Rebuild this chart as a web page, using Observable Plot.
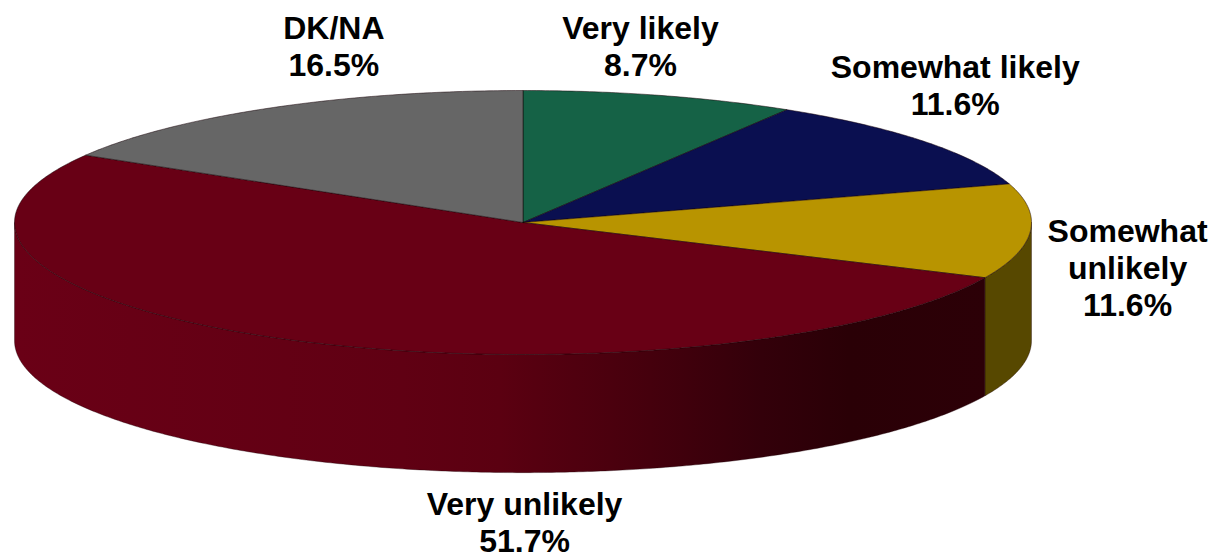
<!DOCTYPE html>
<html>
<head>
<meta charset="utf-8">
<style>html,body{margin:0;padding:0;background:#fff}svg{display:block}</style>
<script src="https://cdn.jsdelivr.net/npm/d3@7"></script>
<script src="https://cdn.jsdelivr.net/npm/@observablehq/plot@0.6"></script>
</head>
<body>
<script>
// Survey responses, clockwise from twelve o'clock
const categories = ["Very likely", "Somewhat likely", "Somewhat unlikely", "Very unlikely", "DK/NA"];
const shares = [8.7, 11.6, 11.6, 51.7, 16.5];
const displayNames = ["Very likely", "Somewhat likely", "Somewhat\nunlikely", "Very unlikely", "DK/NA"];
const topColors = ["#156246", "#0a0f50", "#b89400", "#680015", "#666666"];
const wallColors = ["#0c3a2a", "#060830", "#574800", "url(#wallShade)", "#3d3d3d"];

// Label centres, in pie units (the ellipse spans -1..1 on each axis)
const labelX = [0.231, 0.85, 1.189, 0.003, -0.372];
const labelY = [1.34, 1.047, -0.34, -2.265, 1.34];

// Shading of the long front wall, left to right
const wallStops = [[0, "#6a0016"], [0.4, "#600013"], [0.5, "#5b0011"], [0.655, "#45000d"], [0.77, "#33000a"], [0.86, "#2a0006"], [1, "#2c0007"]];

const depth = 0.895;           // wall height in pie units
const total = d3.sum(shares);
const step = Math.PI / 360;

// Slice boundaries as clockwise angles from the top of the ellipse
let running = 0;
const slices = categories.map((name, i) => {
  const a0 = running / total * 2 * Math.PI;
  running += shares[i];
  return {name, a0, a1: running / total * 2 * Math.PI, i};
});

const arc = (a0, a1) => {
  const angles = d3.range(a0, a1, step).concat(a1);
  return angles.map(a => [Math.sin(a), Math.cos(a)]);
};

const topPoints = slices.flatMap(s => {
  const ring = [[0, 0], ...arc(s.a0, s.a1), [0, 0]];
  return ring.map(([x, y]) => ({x, y, name: s.name, fill: topColors[s.i]}));
});

// Only the arc between the right and left extremes of the ellipse shows a wall
const wallPoints = slices.flatMap(s => {
  const a0 = Math.max(s.a0, Math.PI / 2), a1 = Math.min(s.a1, 1.5 * Math.PI);
  if (a1 <= a0) return [];
  const edge = arc(a0, a1);
  const ring = [...edge, ...edge.slice().reverse().map(([x, y]) => [x, y - depth]), edge[0]];
  return ring.map(([x, y]) => ({x, y, name: s.name, fill: wallColors[s.i]}));
});

const labels = slices.map(s => ({
  x: labelX[s.i],
  y: labelY[s.i],
  text: `${displayNames[s.i]}\n${shares[s.i].toFixed(1)}%`
}));

const chart = Plot.plot({
  width: 1214,
  height: 557,
  margin: 0,
  x: {domain: [-1, 1], range: [14, 1031], axis: null},
  y: {domain: [-1, 1], range: [354, 90], axis: null},
  color: {type: "identity"},
  marks: [
    Plot.line(wallPoints, {x: "x", y: "y", z: "name", fill: "fill", stroke: "#1c0005", strokeWidth: 0.6, strokeOpacity: 0.6, clip: false}),
    Plot.line(topPoints, {x: "x", y: "y", z: "name", fill: "fill", stroke: "#160006", strokeWidth: 1, strokeOpacity: 0.5, clip: false}),
    Plot.text(labels, {
      x: "x", y: "y", text: "text",
      fontFamily: "Liberation Sans, Arial, sans-serif",
      fontWeight: "bold",
      fontSize: 32,
      lineHeight: 1.16,
      fill: "#000",
      clip: false
    })
  ]
});

d3.select(chart).style("background", "#fff").style("overflow", "visible");
const gradient = d3.select(chart).append("defs").append("linearGradient")
  .attr("id", "wallShade").attr("x1", 0).attr("x2", 1).attr("y1", 0).attr("y2", 0);
wallStops.forEach(([offset, color]) => gradient.append("stop").attr("offset", offset).attr("stop-color", color));

document.body.appendChild(chart);
</script>
</body>
</html>
